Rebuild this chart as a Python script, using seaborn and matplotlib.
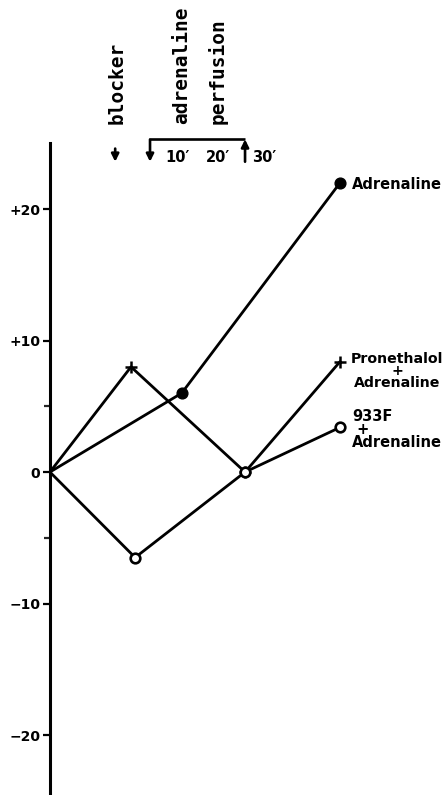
import matplotlib
matplotlib.use("Agg")
import matplotlib.pyplot as plt
import pandas as pd
import seaborn as sns

# Time in minutes relative to the start of the adrenaline perfusion;
# values are the change of the measured response.
t_start = -31.6
adr_t = [t_start, 10, 60]
adr_v = [0, 6, 22]
pro_t = [t_start, -6, 30, 60]
pro_v = [0, 8, 0, 8.4]
f933_t = [t_start, -4.7, 30, 60]
f933_v = [0, -6.5, 0, 3.4]

ytick_vals = [20, 10, 0, -10, -20]
ytick_labels = ["+20", "+10", "0", "\u221210", "\u221220"]
minor_vals = [5, -5]

blocker_t = -11
perf_start, perf_end = 0, 30
perf_tick_t = [8.8, 21.6, 35.9]
perf_tick_labels = ["10\u2032", "20\u2032", "30\u2032"]

sns.set_style("white")
plt.rcParams["font.family"] = ["DejaVu Sans"]
plt.rcParams["text.color"] = "black"

fig = plt.figure(figsize=(4.43, 7.95), dpi=100)
ax = fig.add_axes([50 / 443, 0, 393 / 443, 1])
ax.set_xlim(-31.58, 92.5)
ax.set_ylim(-24.56, 35.9)

lw = 2.0
series = [
    ("Adrenaline", adr_t, adr_v),
    ("Pronethalol + Adrenaline", pro_t, pro_v),
    ("933F + Adrenaline", f933_t, f933_v),
]
for name, t, v in series:
    df = pd.DataFrame({"t": t, "v": v})
    sns.lineplot(data=df, x="t", y="v", sort=False, estimator=None,
                 color="black", lw=lw, ax=ax, zorder=2)

# markers (the common origin carries none)
sns.scatterplot(x=pro_t[1:], y=pro_v[1:], marker="+", s=75, color="black",
                linewidth=1.8, ax=ax, zorder=3)
sns.scatterplot(x=adr_t[1:], y=adr_v[1:], marker="o", s=60, color="black",
                edgecolor="black", linewidth=1, ax=ax, zorder=4)
sns.scatterplot(x=f933_t[1:], y=f933_v[1:], marker="o", s=48, facecolor="white",
                edgecolor="black", linewidth=1.9, ax=ax, zorder=4)

# axis styling: only the left axis line with outward ticks
for side in ("top", "right", "bottom"):
    ax.spines[side].set_visible(False)
ax.spines["left"].set_linewidth(2.2)
ax.spines["left"].set_color("black")
ax.spines["left"].set_bounds(-24.56, 25.0)
ax.set_xticks([])
ax.set_yticks(ytick_vals)
ax.set_yticklabels(ytick_labels, fontsize=10, fontweight="bold")
ax.set_yticks(minor_vals, minor=True)
ax.tick_params(axis="y", which="major", direction="out", length=5, width=1.6,
               pad=2, left=True, colors="black")
ax.tick_params(axis="y", which="minor", direction="out", length=4, width=1.6,
               left=True)
ax.set_xlabel("")
ax.set_ylabel("")

# vertical typewriter captions
mono = dict(family="DejaVu Sans Mono", fontweight="bold", fontsize=14,
            rotation=90, ha="center", va="bottom", color="black")
ax.text(blocker_t + 0.6, 26.5, "blocker", **mono)
ax.text(10.1, 26.5, "adrenaline", **mono)
ax.text(21.5, 26.5, "perfusion", **mono)

arrow = dict(arrowstyle="-|>", color="black", lw=1.9, mutation_scale=11,
             shrinkA=0, shrinkB=0)
ax.annotate("", xy=(blocker_t, 23.6), xytext=(blocker_t, 24.6), arrowprops=arrow)
ax.plot([perf_start, perf_end], [25.3, 25.3], color="black", lw=1.9,
        solid_capstyle="butt")
ax.annotate("", xy=(perf_start, 23.6), xytext=(perf_start, 25.3), arrowprops=arrow)
ax.annotate("", xy=(perf_end, 25.3), xytext=(perf_end, 23.6), arrowprops=arrow)
for t, lab in zip(perf_tick_t, perf_tick_labels):
    ax.text(t, 23.95, lab, fontsize=10.5, fontweight="bold", ha="center",
            va="center")

# series labels at the right-hand ends
ax.text(63.8, 21.9, "Adrenaline", fontsize=10.5, fontweight="bold",
        ha="left", va="center")
ax.text(78.0, 7.7, "Pronethalol\n+\nAdrenaline", fontsize=10.2,
        fontweight="bold", ha="center", va="center", multialignment="center",
        linespacing=0.82)
ax.text(63.8, 3.25, "933F\n +\nAdrenaline", fontsize=10.5,
        fontweight="bold", ha="left", va="center", multialignment="left",
        linespacing=0.86)

fig.savefig("out.png", dpi=100)
